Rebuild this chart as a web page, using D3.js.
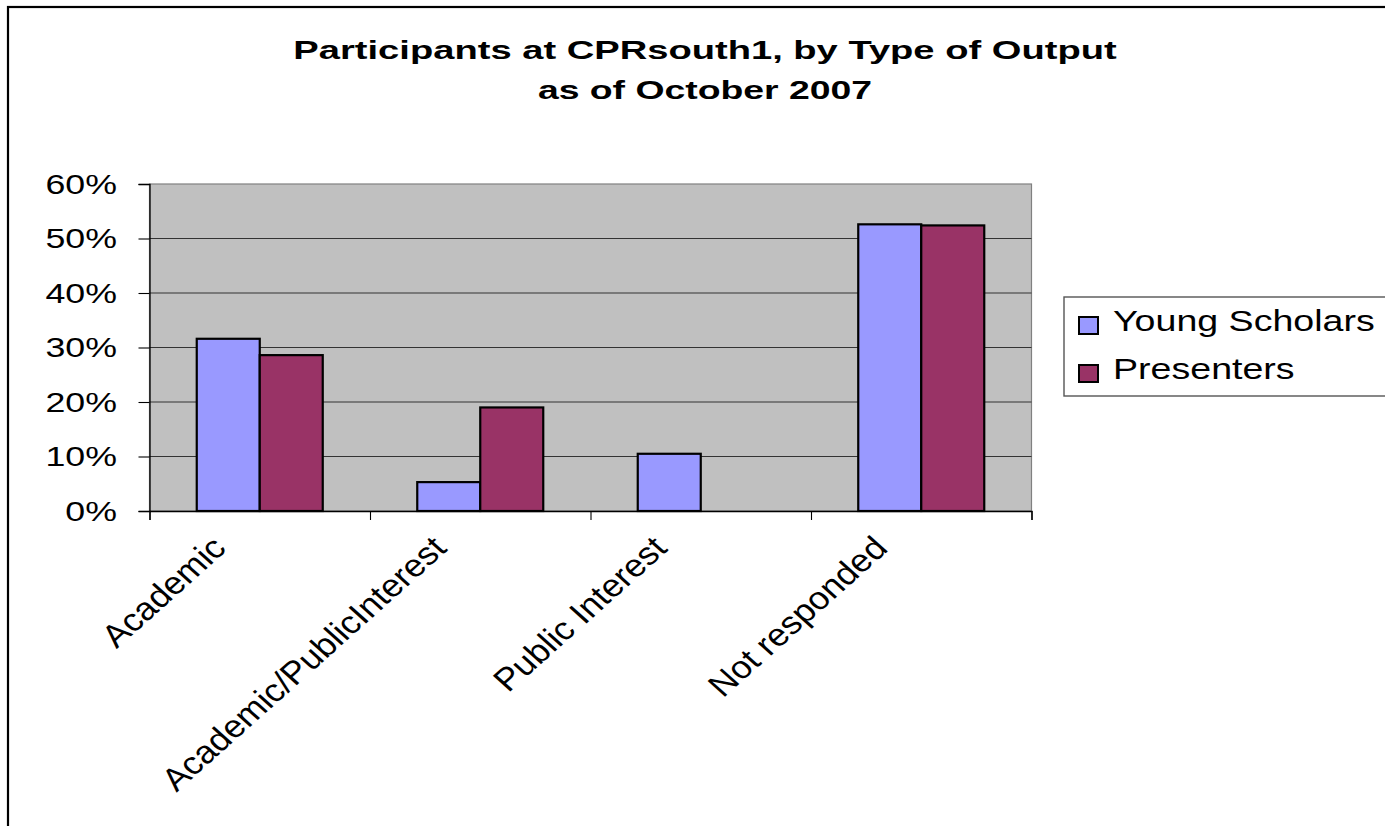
<!DOCTYPE html>
<html>
<head>
<meta charset="utf-8">
<script src="https://cdn.jsdelivr.net/npm/d3@7"></script>
<style>
  html, body { margin: 0; padding: 0; background: #fff; }
  svg { display: block; font-family: "Liberation Sans", Arial, sans-serif; }
</style>
</head>
<body>
<svg id="chart" width="1385" height="826"></svg>
<script>
// ---- data ----
const categories = ["Academic", "Academic/PublicInterest", "Public Interest", "Not responded"];
const seriesNames = ["Young Scholars", "Presenters"];
const youngScholars = [0.316, 0.053, 0.105, 0.526];
const presenters = [0.286, 0.190, 0.0, 0.524];
const yTicks = [0, 0.1, 0.2, 0.3, 0.4, 0.5, 0.6];
const titleLines = ["Participants at CPRsouth1, by Type of Output", "as of October 2007"];
const seriesColors = ["#9999FF", "#993366"];

const seriesValues = [youngScholars, presenters];

const svg = d3.select("#chart");
const W = 1385, H = 826;

// outer chart frame (extends beyond right/bottom edges)
svg.append("rect")
  .attr("x", 8).attr("y", 7)
  .attr("width", W + 20).attr("height", H + 20)
  .attr("fill", "#fff").attr("stroke", "#000").attr("stroke-width", 2.2);

const plot = { left: 149.5, right: 1031.5, top: 184, bottom: 511 };

const x0 = d3.scaleBand().domain(categories).range([plot.left, plot.right]).padding(0);
const x1 = d3.scaleBand().domain(seriesNames).range([0, x0.bandwidth()])
  .paddingInner(0).paddingOuter(0.75);
const y = d3.scaleLinear().domain([0, 0.6]).range([plot.bottom, plot.top]);

// plot area background
svg.append("rect")
  .attr("x", plot.left).attr("y", plot.top)
  .attr("width", plot.right - plot.left).attr("height", plot.bottom - plot.top)
  .attr("fill", "#C0C0C0").attr("stroke", "#808080").attr("stroke-width", 1.2);

// gridlines
svg.append("g").selectAll("line")
  .data(yTicks.filter(t => t > 0 && t < 0.6))
  .join("line")
  .attr("x1", plot.left).attr("x2", plot.right)
  .attr("y1", d => y(d)).attr("y2", d => y(d))
  .attr("stroke", "#333").attr("stroke-width", 1.1);

// bars
const groups = svg.append("g").selectAll("g")
  .data(categories)
  .join("g")
  .attr("transform", d => `translate(${x0(d)},0)`);

groups.selectAll("rect")
  .data((c, i) => seriesNames.map((s, k) => ({ s, k, v: seriesValues[k][i] })).filter(d => d.v > 0))
  .join("rect")
  .attr("x", d => x1(d.s))
  .attr("width", x1.bandwidth())
  .attr("y", d => y(d.v))
  .attr("height", d => y(0) - y(d.v))
  .attr("fill", d => seriesColors[d.k])
  .attr("stroke", "#000").attr("stroke-width", 2.2);

// y axis
const yAxis = d3.axisLeft(y).tickValues(yTicks).tickSize(11).tickFormat("");
const gy = svg.append("g").attr("transform", `translate(${plot.left},0)`).call(yAxis);
gy.select(".domain").attr("stroke", "#000").attr("stroke-width", 1.3);
gy.selectAll(".tick line").attr("stroke", "#000").attr("stroke-width", 1.1);
gy.selectAll(".tick text").remove();

const fmt = d3.format(".0%");
svg.append("g").selectAll("text")
  .data(yTicks)
  .join("text")
  .attr("transform", d => `translate(117,${y(d) + 9.7}) scale(1.3,1)`)
  .attr("text-anchor", "end")
  .attr("font-size", 27.5)
  .attr("fill", "#000")
  .text(d => fmt(d));

// x axis
const xEdge = d3.scaleLinear().domain([0, categories.length]).range([plot.left, plot.right]);
const gx = svg.append("g").attr("transform", `translate(0,${plot.bottom})`)
  .call(d3.axisBottom(xEdge).tickValues(d3.range(categories.length + 1)).tickSize(9).tickFormat(""));
gx.select(".domain").attr("stroke", "#000").attr("stroke-width", 1.3);
gx.selectAll(".tick line").attr("stroke", "#000").attr("stroke-width", 1.1);
gx.selectAll(".tick text").remove();

// rotated category labels
svg.append("g").selectAll("text")
  .data(categories)
  .join("text")
  .attr("transform", d => `translate(${x0(d) + x0.bandwidth() / 2 - 32},${plot.bottom + 39}) scale(1.12,1) rotate(-45)`)
  .attr("text-anchor", "end")
  .attr("font-size", 32)
  .attr("fill", "#000")
  .text(d => d);

// title
svg.append("g").selectAll("text")
  .data(titleLines)
  .join("text")
  .attr("transform", (d, i) => `translate(705,${58.5 + i * 40.5}) scale(${i === 0 ? 1.49 : 1.46},1)`)
  .attr("text-anchor", "middle")
  .attr("font-size", 25.6)
  .attr("font-weight", "bold")
  .attr("fill", "#000")
  .text(d => d);

// legend
const lg = svg.append("g");
lg.append("rect")
  .attr("x", 1064).attr("y", 297)
  .attr("width", 400).attr("height", 99)
  .attr("fill", "#fff").attr("stroke", "#555").attr("stroke-width", 1.4);
const items = lg.selectAll("g.item")
  .data(seriesNames)
  .join("g").attr("class", "item")
  .attr("transform", (d, i) => `translate(0,${i * 48})`);
items.append("rect")
  .attr("x", 1079).attr("y", 317)
  .attr("width", 19).attr("height", 17)
  .attr("fill", (d, i) => seriesColors[i])
  .attr("stroke", "#000").attr("stroke-width", 2);
items.append("text")
  .attr("transform", "translate(1113,330.5) scale(1.24,1)")
  .attr("font-size", 30.3)
  .attr("fill", "#000")
  .text(d => d);
</script>
</body>
</html>
